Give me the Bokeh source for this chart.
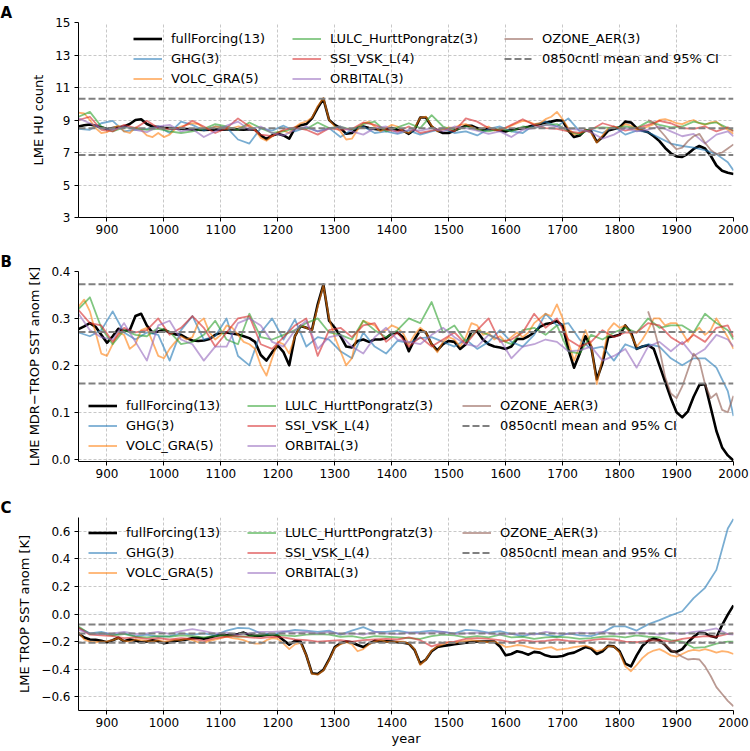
from bokeh.plotting import figure
from bokeh.models import Range1d, FixedTicker, Legend, LegendItem
from bokeh.layouts import column
from bokeh.embed import file_html
from bokeh.resources import INLINE

FONT = "DejaVu Sans"
X_MIN, X_MAX = 850, 2000
X_TICKS = [900, 1000, 1100, 1200, 1300, 1400, 1500, 1600, 1700, 1800, 1900, 2000]
YEARS10 = list(range(850, 2001, 10))
YEARS20 = list(range(850, 1991, 20)) + [2000]
YEARS_OZ = list(range(1850, 2001, 10))

NAMES = ["fullForcing(13)", "GHG(3)", "VOLC_GRA(5)", "LULC_HurttPongratz(3)",
         "SSI_VSK_L(4)", "ORBITAL(3)", "OZONE_AER(3)"]
CNTL_LABEL = "0850cntl mean and 95% CI"
COLORS = ["black", "#1f77b4", "#ff7f0e", "#2ca02c", "#d62728", "#9467bd", "#8c564b"]

# ---------------- Panel A: LME HU count ----------------
HU_CNTL = [6.84, 8.49, 10.31]
HU_FULL = [8.60, 8.68, 8.72, 8.65, 8.55, 8.45, 8.50, 8.55, 8.60, 8.75,
           9.00, 9.05, 8.75, 8.60, 8.57, 8.52, 8.50, 8.48, 8.46, 8.45,
           8.42, 8.40, 8.38, 8.40, 8.41, 8.40, 8.42, 8.44, 8.42, 8.40,
           8.44, 8.40, 8.05, 7.82, 8.05, 8.15, 8.05, 7.85, 8.50, 8.68,
           8.75, 9.10, 9.75, 10.30, 9.00, 8.70, 8.50, 8.15, 8.20, 8.50,
           8.60, 8.50, 8.45, 8.40, 8.45, 8.50, 8.40, 8.35, 8.15, 8.40,
           9.15, 9.15, 8.60, 8.35, 8.20, 8.20, 8.35, 8.50, 8.65, 8.65,
           8.50, 8.40, 8.45, 8.42, 8.35, 8.30, 8.40, 8.45, 8.50, 8.58,
           8.68, 8.75, 8.85, 8.90, 8.98, 8.95, 8.35, 7.95, 8.05, 8.38,
           8.30, 7.65, 7.95, 8.35, 8.45, 8.55, 8.90, 8.85, 8.50, 8.35,
           8.25, 8.00, 7.70, 7.28, 6.95, 6.76, 6.73, 6.92, 7.22, 7.40,
           7.25, 6.80, 6.20, 5.88, 5.75, 5.68]
HU_VOLC = [9.45, 9.40, 9.00, 8.50, 8.20, 8.25, 8.50, 8.65, 8.30, 8.20,
           8.55, 8.40, 8.05, 7.95, 8.20, 7.95, 8.10, 8.45, 8.60, 8.70,
           8.80, 8.75, 8.50, 8.45, 8.60, 8.55, 8.45, 8.50, 8.60, 8.55,
           8.70, 8.40, 7.90, 7.72, 8.00, 8.25, 8.35, 8.20, 8.55, 8.80,
           8.90, 9.15, 9.85, 10.35, 9.00, 8.60, 8.30, 7.80, 7.85, 8.40,
           8.80, 8.90, 8.60, 8.30, 8.50, 8.70, 8.60, 8.30, 8.20, 8.50,
           9.15, 9.20, 8.65, 8.30, 8.40, 8.55, 8.50, 8.70, 8.75, 8.60,
           8.40, 8.50, 8.60, 8.35, 8.40, 8.50, 8.65, 8.80, 8.95, 8.90,
           8.75, 8.80, 9.05, 9.20, 9.50, 9.05, 8.50, 8.10, 8.20, 8.40,
           8.20, 7.60, 8.05, 8.50, 8.60, 8.50, 8.75, 8.65, 8.40, 8.45,
           8.60, 8.75, 9.00, 9.05, 8.95, 8.80, 8.75, 8.90, 9.00, 8.80,
           8.70, 8.85, 8.90, 8.60, 8.40, 8.15]
HU_GHG = [8.45, 8.40, 8.80, 8.95, 8.30, 8.40, 8.45, 8.60, 8.20, 8.90,
          8.70, 8.35, 8.60, 8.55, 7.80, 7.55, 8.50, 8.35, 8.65, 8.30,
          8.55, 8.30, 8.50, 7.95, 8.40, 8.60, 8.20, 8.30, 8.15, 8.35,
          8.10, 8.30, 8.45, 8.20, 8.30, 8.05, 8.45, 8.60, 8.30, 8.20,
          8.70, 8.90, 8.60, 9.10, 8.30, 8.40, 8.20, 8.60, 8.10, 8.35,
          8.25, 7.90, 7.55, 7.40, 7.30, 7.15, 6.90, 6.40, 5.90]
HU_LULC = [9.20, 9.50, 8.60, 8.30, 8.55, 8.50, 8.40, 8.45, 8.30, 8.20,
           8.30, 8.45, 8.75, 8.60, 8.40, 8.85, 8.50, 8.20, 8.30, 8.50,
           8.45, 8.85, 8.50, 8.60, 8.40, 8.75, 8.90, 8.30, 8.55, 8.80,
           8.50, 9.30, 8.60, 8.35, 8.60, 8.40, 8.30, 8.45, 8.30, 8.60,
           8.50, 8.70, 8.75, 8.30, 8.10, 8.50, 8.55, 8.50, 8.60, 8.50,
           8.90, 8.70, 8.55, 8.60, 8.90, 8.75, 8.85, 8.50, 8.35]
HU_SSI = [9.00, 9.20, 8.40, 8.30, 8.70, 8.50, 8.95, 8.50, 8.45, 8.50,
          8.95, 8.60, 8.20, 8.50, 9.10, 8.60, 8.10, 8.00, 8.40, 8.55,
          8.40, 8.10, 8.50, 8.40, 8.45, 8.85, 8.70, 8.40, 8.30, 8.60,
          8.20, 8.35, 8.50, 8.30, 9.10, 8.90, 8.50, 8.35, 8.70, 9.05,
          8.70, 8.50, 8.45, 8.30, 8.20, 8.40, 8.80, 8.60, 8.35, 8.50,
          8.70, 8.95, 8.80, 8.50, 8.45, 8.60, 8.30, 8.55, 8.30]
HU_ORB = [9.10, 8.80, 8.50, 8.40, 8.60, 8.40, 8.25, 8.60, 8.70, 8.30,
          8.45, 7.95, 8.30, 8.65, 8.90, 8.40, 8.60, 8.20, 8.05, 8.40,
          8.60, 8.30, 8.45, 8.60, 8.30, 8.10, 8.50, 8.60, 8.20, 8.40,
          8.35, 8.50, 8.30, 8.60, 8.50, 8.35, 8.15, 8.30, 7.95, 8.40,
          8.50, 8.70, 8.60, 8.45, 8.40, 8.25, 7.85, 8.10, 8.50, 8.30,
          8.40, 8.60, 8.30, 8.00, 8.15, 7.55, 8.10, 8.30, 8.00]
HU_OZONE = [9.00, 8.85, 8.40, 8.00, 7.55, 7.20, 7.30, 7.70, 8.00, 8.15,
            7.60, 7.15, 6.90, 7.00, 7.25, 7.50]

# ---------------- Panel B: LME MDR-TROP SST anom ----------------
MDR_CNTL = [0.161, 0.271, 0.373]
MDR_FULL = [0.277, 0.283, 0.290, 0.282, 0.265, 0.248, 0.262, 0.278, 0.273, 0.275,
            0.305, 0.310, 0.285, 0.270, 0.272, 0.276, 0.270, 0.266, 0.265, 0.258,
            0.253, 0.252, 0.253, 0.256, 0.265, 0.270, 0.270, 0.268, 0.266, 0.262,
            0.258, 0.250, 0.222, 0.210, 0.228, 0.242, 0.228, 0.200, 0.262, 0.284,
            0.280, 0.276, 0.330, 0.372, 0.295, 0.280, 0.262, 0.240, 0.238, 0.252,
            0.255, 0.250, 0.255, 0.255, 0.258, 0.268, 0.270, 0.260, 0.230, 0.255,
            0.275, 0.270, 0.245, 0.232, 0.245, 0.252, 0.250, 0.235, 0.245, 0.272,
            0.272, 0.255, 0.245, 0.240, 0.238, 0.235, 0.240, 0.256, 0.256, 0.262,
            0.270, 0.282, 0.288, 0.290, 0.294, 0.285, 0.235, 0.195, 0.225, 0.262,
            0.240, 0.170, 0.205, 0.260, 0.262, 0.265, 0.285, 0.270, 0.235, 0.240,
            0.243, 0.235, 0.200, 0.165, 0.130, 0.100, 0.089, 0.102, 0.133, 0.158,
            0.160, 0.110, 0.060, 0.025, 0.008, -0.003]
MDR_VOLC = [0.325, 0.340, 0.315, 0.270, 0.225, 0.220, 0.245, 0.270, 0.265, 0.235,
            0.245, 0.275, 0.280, 0.250, 0.220, 0.215, 0.235, 0.250, 0.262, 0.255,
            0.260, 0.290, 0.300, 0.270, 0.255, 0.265, 0.285, 0.280, 0.265, 0.250,
            0.245, 0.235, 0.200, 0.178, 0.215, 0.250, 0.245, 0.225, 0.262, 0.285,
            0.280, 0.275, 0.325, 0.370, 0.300, 0.260, 0.230, 0.200, 0.215, 0.270,
            0.295, 0.290, 0.285, 0.270, 0.275, 0.285, 0.280, 0.268, 0.245, 0.265,
            0.280, 0.270, 0.245, 0.228, 0.250, 0.260, 0.255, 0.240, 0.260, 0.290,
            0.285, 0.265, 0.270, 0.255, 0.262, 0.250, 0.260, 0.270, 0.260, 0.270,
            0.290, 0.300, 0.310, 0.305, 0.330, 0.300, 0.250, 0.210, 0.240, 0.275,
            0.245, 0.160, 0.215, 0.275, 0.290, 0.280, 0.285, 0.265, 0.240, 0.255,
            0.275, 0.300, 0.300, 0.285, 0.290, 0.290, 0.270, 0.250, 0.270, 0.280,
            0.265, 0.275, 0.300, 0.280, 0.260, 0.235]
MDR_GHG = [0.270, 0.262, 0.275, 0.315, 0.270, 0.255, 0.270, 0.265, 0.210, 0.275,
           0.305, 0.255, 0.262, 0.300, 0.220, 0.200, 0.270, 0.300, 0.255, 0.298,
           0.240, 0.260, 0.255, 0.230, 0.215, 0.270, 0.240, 0.225, 0.252, 0.248,
           0.258, 0.260, 0.250, 0.240, 0.255, 0.235, 0.250, 0.275, 0.250, 0.240,
           0.265, 0.310, 0.285, 0.290, 0.255, 0.235, 0.240, 0.210, 0.245, 0.235,
           0.245, 0.240, 0.215, 0.200, 0.215, 0.215, 0.195, 0.145, 0.092]
MDR_LULC = [0.320, 0.345, 0.280, 0.245, 0.275, 0.265, 0.262, 0.280, 0.272, 0.245,
            0.250, 0.265, 0.295, 0.255, 0.245, 0.310, 0.260, 0.255, 0.265, 0.275,
            0.290, 0.300, 0.270, 0.265, 0.255, 0.295, 0.275, 0.260, 0.275, 0.300,
            0.290, 0.335, 0.270, 0.285, 0.250, 0.275, 0.265, 0.255, 0.245, 0.275,
            0.280, 0.265, 0.285, 0.230, 0.225, 0.265, 0.255, 0.270, 0.280, 0.270,
            0.300, 0.280, 0.285, 0.285, 0.270, 0.310, 0.290, 0.275, 0.255]
MDR_SSI = [0.318, 0.290, 0.285, 0.250, 0.280, 0.270, 0.275, 0.300, 0.265, 0.280,
           0.305, 0.280, 0.240, 0.270, 0.300, 0.305, 0.245, 0.235, 0.260, 0.285,
           0.300, 0.220, 0.275, 0.280, 0.260, 0.285, 0.290, 0.250, 0.270, 0.240,
           0.260, 0.240, 0.255, 0.270, 0.245, 0.275, 0.300, 0.250, 0.255, 0.270,
           0.310, 0.280, 0.300, 0.255, 0.240, 0.250, 0.275, 0.260, 0.270, 0.270,
           0.290, 0.285, 0.260, 0.245, 0.265, 0.250, 0.280, 0.285, 0.260]
MDR_ORB = [0.310, 0.275, 0.260, 0.255, 0.290, 0.250, 0.210, 0.285, 0.295, 0.255,
           0.245, 0.210, 0.240, 0.240, 0.290, 0.300, 0.285, 0.250, 0.240, 0.275,
           0.295, 0.235, 0.260, 0.265, 0.240, 0.225, 0.260, 0.280, 0.255, 0.250,
           0.245, 0.265, 0.280, 0.260, 0.245, 0.240, 0.265, 0.255, 0.215, 0.240,
           0.245, 0.255, 0.250, 0.230, 0.232, 0.240, 0.210, 0.220, 0.235, 0.195,
           0.240, 0.250, 0.230, 0.250, 0.220, 0.235, 0.265, 0.255, 0.240]
MDR_OZONE = [0.315, 0.280, 0.235, 0.175, 0.140, 0.130, 0.155, 0.190, 0.225, 0.210,
             0.160, 0.130, 0.140, 0.105, 0.100, 0.135]

# ---------------- Panel C: LME TROP SST anom ----------------
TROP_CNTL = [-0.208, -0.142, -0.077]
TROP_FULL = [-0.140, -0.170, -0.185, -0.187, -0.195, -0.205, -0.190, -0.172, -0.198, -0.185,
             -0.193, -0.205, -0.200, -0.190, -0.198, -0.212, -0.205, -0.196, -0.190, -0.185,
             -0.175, -0.172, -0.180, -0.170, -0.160, -0.150, -0.155, -0.148, -0.145, -0.135,
             -0.152, -0.158, -0.158, -0.152, -0.148, -0.158, -0.190, -0.222, -0.195, -0.200,
             -0.300, -0.430, -0.435, -0.405, -0.330, -0.240, -0.212, -0.200, -0.205, -0.225,
             -0.240, -0.215, -0.195, -0.200, -0.198, -0.200, -0.205, -0.208, -0.215, -0.260,
             -0.360, -0.330, -0.270, -0.240, -0.232, -0.226, -0.220, -0.213, -0.208, -0.204,
             -0.200, -0.200, -0.200, -0.200, -0.235, -0.300, -0.290, -0.270, -0.280, -0.295,
             -0.275, -0.280, -0.300, -0.310, -0.310, -0.305, -0.288, -0.280, -0.260, -0.240,
             -0.250, -0.290, -0.270, -0.230, -0.235, -0.270, -0.360, -0.380, -0.300, -0.232,
             -0.195, -0.178, -0.190, -0.225, -0.270, -0.275, -0.255, -0.205, -0.165, -0.135,
             -0.140, -0.160, -0.170, -0.080, -0.005, 0.062]
TROP_VOLC = [-0.130, -0.185, -0.200, -0.205, -0.200, -0.198, -0.190, -0.175, -0.195, -0.200,
             -0.185, -0.190, -0.195, -0.200, -0.190, -0.200, -0.195, -0.185, -0.190, -0.180,
             -0.190, -0.205, -0.210, -0.195, -0.185, -0.175, -0.165, -0.175, -0.180, -0.190,
             -0.205, -0.215, -0.215, -0.190, -0.175, -0.180, -0.215, -0.255, -0.220, -0.210,
             -0.300, -0.435, -0.440, -0.410, -0.335, -0.245, -0.220, -0.205, -0.220, -0.270,
             -0.255, -0.220, -0.200, -0.190, -0.200, -0.205, -0.200, -0.200, -0.215, -0.255,
             -0.370, -0.330, -0.265, -0.235, -0.220, -0.205, -0.210, -0.200, -0.195, -0.190,
             -0.195, -0.200, -0.205, -0.200, -0.215, -0.240, -0.235, -0.225, -0.230, -0.240,
             -0.250, -0.255, -0.245, -0.240, -0.260, -0.255, -0.250, -0.240, -0.235, -0.230,
             -0.245, -0.270, -0.260, -0.235, -0.235, -0.280, -0.380, -0.415, -0.370, -0.320,
             -0.285, -0.265, -0.255, -0.275, -0.300, -0.310, -0.290, -0.270, -0.260, -0.265,
             -0.255, -0.265, -0.280, -0.270, -0.275, -0.290]
TROP_GHG = [-0.100, -0.140, -0.130, -0.150, -0.140, -0.160, -0.150, -0.165, -0.160, -0.140,
            -0.150, -0.140, -0.155, -0.120, -0.100, -0.105, -0.140, -0.150, -0.130, -0.115,
            -0.120, -0.130, -0.120, -0.150, -0.120, -0.095, -0.130, -0.130, -0.120, -0.135,
            -0.130, -0.120, -0.130, -0.140, -0.115, -0.120, -0.135, -0.125, -0.145, -0.160,
            -0.140, -0.150, -0.165, -0.140, -0.155, -0.160, -0.135, -0.090, -0.090, -0.120,
            -0.075, -0.045, -0.010, 0.020, 0.115, 0.190, 0.320, 0.620, 0.690]
TROP_LULC = [-0.090, -0.145, -0.140, -0.155, -0.145, -0.165, -0.170, -0.160, -0.165, -0.155,
             -0.160, -0.170, -0.160, -0.155, -0.165, -0.160, -0.155, -0.150, -0.155, -0.160,
             -0.150, -0.145, -0.150, -0.165, -0.160, -0.175, -0.160, -0.165, -0.170, -0.175,
             -0.180, -0.160, -0.150, -0.155, -0.170, -0.160, -0.170, -0.150, -0.170, -0.165,
             -0.180, -0.170, -0.165, -0.170, -0.180, -0.175, -0.165, -0.160, -0.170, -0.155,
             -0.165, -0.170, -0.190, -0.200, -0.245, -0.240, -0.215, -0.200, -0.200]
TROP_SSI = [-0.100, -0.150, -0.155, -0.160, -0.175, -0.170, -0.180, -0.175, -0.185, -0.175,
            -0.180, -0.195, -0.175, -0.165, -0.160, -0.170, -0.175, -0.165, -0.170, -0.185,
            -0.190, -0.200, -0.195, -0.190, -0.200, -0.190, -0.185, -0.180, -0.185, -0.170,
            -0.190, -0.235, -0.210, -0.200, -0.180, -0.175, -0.180, -0.190, -0.205, -0.190,
            -0.200, -0.195, -0.185, -0.195, -0.200, -0.190, -0.180, -0.185, -0.200, -0.205,
            -0.195, -0.190, -0.200, -0.180, -0.170, -0.160, -0.165, -0.145, -0.140]
TROP_ORB = [-0.115, -0.140, -0.145, -0.140, -0.130, -0.145, -0.140, -0.130, -0.145, -0.125,
            -0.110, -0.125, -0.140, -0.135, -0.150, -0.140, -0.130, -0.130, -0.125, -0.135,
            -0.130, -0.140, -0.130, -0.145, -0.140, -0.150, -0.130, -0.140, -0.145, -0.135,
            -0.140, -0.135, -0.130, -0.145, -0.140, -0.135, -0.140, -0.150, -0.145, -0.140,
            -0.150, -0.130, -0.140, -0.145, -0.135, -0.140, -0.130, -0.145, -0.140, -0.135,
            -0.140, -0.150, -0.135, -0.145, -0.130, -0.120, -0.105, -0.145, -0.150]
TROP_OZONE = [-0.180, -0.190, -0.205, -0.225, -0.260, -0.285, -0.310, -0.330, -0.325, -0.330,
              -0.380, -0.450, -0.530, -0.580, -0.630, -0.670]

# figure geometry
FIG_W = 749
B_LEFT, B_RIGHT = 78, 16


def make_panel(letter, ylabel, y0, y1, yticks, ylabels, height, btop, bbottom,
               series, cntl, legend_pos, show_xlabel):
    p = figure(width=FIG_W, height=height, x_range=Range1d(X_MIN, X_MAX),
               y_range=Range1d(y0, y1), output_backend="svg", toolbar_location=None,
               min_border_left=B_LEFT, min_border_right=B_RIGHT, min_border_top=btop,
               min_border_bottom=bbottom, title=letter, title_location="above")
    p.outline_line_color = None
    p.background_fill_color = "white"
    p.border_fill_color = "white"

    # panel letter (bold, at the top-left corner)
    p.title.align = "left"
    p.title.offset = -B_LEFT
    p.title.standoff = 2
    p.title.text_font = FONT
    p.title.text_font_size = "15px"
    p.title.text_font_style = "bold"
    p.title.text_color = "black"

    for ax in (p.xaxis[0], p.yaxis[0]):
        ax.axis_line_color = "black"
        ax.axis_line_width = 1
        ax.major_tick_line_color = "black"
        ax.major_tick_in = 0
        ax.major_tick_out = 4
        ax.minor_tick_line_color = None
        ax.major_label_text_font = FONT
        ax.major_label_text_font_size = "12px"
        ax.major_label_text_color = "black"
        ax.axis_label_text_font = FONT
        ax.axis_label_text_font_size = "13px"
        ax.axis_label_text_font_style = "normal"
        ax.axis_label_text_color = "black"

    p.xaxis.ticker = FixedTicker(ticks=X_TICKS)
    p.xaxis.major_label_standoff = 3
    if show_xlabel:
        p.xaxis.axis_label = "year"
        p.xaxis.axis_label_standoff = 1
    p.yaxis.ticker = FixedTicker(ticks=yticks)
    p.yaxis.major_label_overrides = {t: s for t, s in zip(yticks, ylabels)}
    p.yaxis.major_label_standoff = 4
    p.yaxis.axis_label = ylabel
    p.yaxis.axis_label_standoff = 6

    for g in (p.xgrid[0], p.ygrid[0]):
        g.grid_line_color = "#c8c8c8"
        g.grid_line_dash = "3 2"
        g.grid_line_width = 1

    renderers = []
    for i, (xs, ys) in enumerate(series):
        if i == 0:
            r = p.line(xs, ys, line_color=COLORS[0], line_width=2.6, line_join="round")
        else:
            r = p.line(xs, ys, line_color=COLORS[i], line_width=1.8, line_alpha=0.6,
                       line_join="round")
        renderers.append(r)
    rc = p.multi_line(xs=[[X_MIN, X_MAX] for _ in cntl], ys=[[v, v] for v in cntl],
                      line_color="#808080", line_width=2, line_dash="7 3")
    renderers.append(rc)
    labels = NAMES + [CNTL_LABEL]

    groups = [(0, 3), (3, 6), (6, 8)]
    for (a, b), (lx, ly) in zip(groups, legend_pos):
        items = [LegendItem(label=labels[k], renderers=[renderers[k]]) for k in range(a, b)]
        lg = Legend(items=items, location=(lx, ly), orientation="vertical",
                    padding=0, margin=0, spacing=3, glyph_width=29, glyph_height=17,
                    label_height=17, label_standoff=9, label_text_font=FONT,
                    label_text_font_size="13px", label_text_color="black",
                    border_line_color=None, background_fill_alpha=0)
        p.add_layout(lg)
    return p


pA = make_panel("A", "LME HU count", 3, 15, [3, 5, 7, 9, 11, 13, 15],
                ["3", "5", "7", "9", "11", "13", "15"], 249, 21, 32,
                [(YEARS10, HU_FULL), (YEARS20, HU_GHG), (YEARS10, HU_VOLC),
                 (YEARS20, HU_LULC), (YEARS20, HU_SSI), (YEARS20, HU_ORB),
                 (YEARS_OZ, HU_OZONE)], HU_CNTL,
                [(55, 130), (214, 130), (426, 150)], False)

pB = make_panel("B", "LME MDR\u2212TROP SST anom [K]", -0.005, 0.4, [0.0, 0.1, 0.2, 0.3, 0.4],
                ["0.0", "0.1", "0.2", "0.3", "0.4"], 246, 18, 34,
                [(YEARS10, MDR_FULL), (YEARS20, MDR_GHG), (YEARS10, MDR_VOLC),
                 (YEARS20, MDR_LULC), (YEARS20, MDR_SSI), (YEARS20, MDR_ORB),
                 (YEARS_OZ, MDR_OZONE)], MDR_CNTL,
                [(10, 7), (169, 7), (384, 27)], False)

pC = make_panel("C", "LME TROP SST anom [K]", -0.7, 0.7,
                [-0.6, -0.4, -0.2, 0.0, 0.2, 0.4, 0.6],
                ["\u22120.6", "\u22120.4", "\u22120.2", "0.0", "0.2", "0.4", "0.6"],
                254, 20, 39,
                [(YEARS10, TROP_FULL), (YEARS20, TROP_GHG), (YEARS10, TROP_VOLC),
                 (YEARS20, TROP_LULC), (YEARS20, TROP_SSI), (YEARS20, TROP_ORB),
                 (YEARS_OZ, TROP_OZONE)], TROP_CNTL,
                [(10, 129), (169, 129), (384, 149)], True)

layout = column(pA, pB, pC, spacing=0)
open("out.html", "w").write(file_html(layout, INLINE))
